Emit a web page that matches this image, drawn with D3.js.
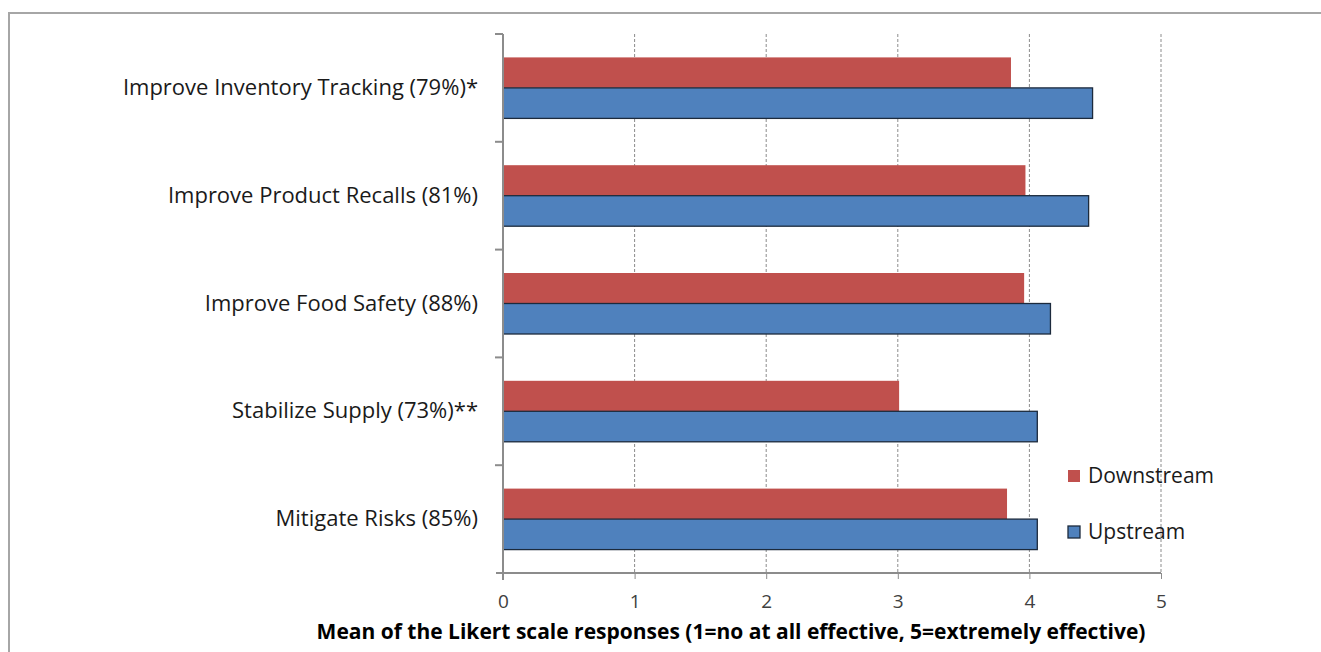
<!DOCTYPE html>
<html>
<head>
<meta charset="utf-8">
<script src="https://cdn.jsdelivr.net/npm/d3@7/dist/d3.min.js"></script>
<style>
  body { margin: 0; background: #fff; }
  svg { display: block; }
</style>
</head>
<body>
<div id="chart"></div>
<script>
//categories from top to bottom
var categories = [
  "Improve Inventory Tracking (79%)*",
  "Improve Product Recalls (81%)",
  "Improve Food Safety (88%)",
  "Stabilize Supply (73%)**",
  "Mitigate Risks (85%)"
];

//series values
var downstream = [3.86, 3.97, 3.96, 3.01, 3.83];
var upstream = [4.48, 4.45, 4.16, 4.06, 4.06];

var seriesNames = ["Downstream", "Upstream"];
var tickValues = [0, 1, 2, 3, 4, 5];

var axisTitle = "Mean of the Likert scale responses (1=no at all effective, 5=extremely effective)";

var width = 1321;
var height = 652;

//font used everywhere
var fontFamily = "'Open Sans', 'Noto Sans', sans-serif";

//plot area
var margin = { top: 34, left: 503, right: 160, bottom: 79 };
var innerWidth = width - margin.left - margin.right;
var innerHeight = height - margin.top - margin.bottom;

var svg = d3
  .select("#chart")
  .append("svg")
  .attr("width", width)
  .attr("height", height);

//outer frame (top and left edges visible)
svg
  .append("path")
  .attr("d", "M9,652 L9,13 L1321,13")
  .attr("fill", "none")
  .attr("stroke", "#a6a6a6")
  .attr("stroke-width", 2);

var g = svg
  .append("g")
  .attr("transform", "translate(" + margin.left + "," + margin.top + ")");

var xScale = d3.scaleLinear().domain([0, 5]).range([0, innerWidth]);

var yScale = d3
  .scaleBand()
  .domain(categories)
  .range([0, innerHeight])
  .paddingInner(0)
  .paddingOuter(0);

var barGroup = 61;
var barH = barGroup / 2;

//dashed gridlines
g.selectAll(".grid")
  .data(tickValues.filter(function(d) { return d > 0; }))
  .enter()
  .append("line")
  .attr("class", "grid")
  .attr("x1", function(d) { return xScale(d); })
  .attr("x2", function(d) { return xScale(d); })
  .attr("y1", 0)
  .attr("y2", innerHeight)
  .style("stroke", "#8c8c8c")
  .style("stroke-width", 1)
  .style("stroke-dasharray", "3,2");

//bars: data table built from the arrays
var rows = categories.map(function(c, i) {
  return { cat: c, down: downstream[i], up: upstream[i] };
});

var groupOffset = function(d) {
  return yScale(d.cat) + (yScale.bandwidth() - barGroup) / 2;
};

g.selectAll(".bar-down")
  .data(rows)
  .enter()
  .append("rect")
  .attr("class", "bar-down")
  .attr("x", xScale(0))
  .attr("y", function(d) { return groupOffset(d); })
  .attr("width", function(d) { return xScale(d.down) - xScale(0); })
  .attr("height", barH)
  .attr("fill", "#c0504d");

g.selectAll(".bar-up")
  .data(rows)
  .enter()
  .append("rect")
  .attr("class", "bar-up")
  .attr("x", xScale(0))
  .attr("y", function(d) { return groupOffset(d) + barH; })
  .attr("width", function(d) { return xScale(d.up) - xScale(0); })
  .attr("height", barH)
  .attr("fill", "#4f81bd")
  .attr("stroke", "#1c2a3c")
  .attr("stroke-width", 1.3);

//x axis
var xAxis = d3
  .axisBottom(xScale)
  .tickValues(tickValues)
  .tickSize(6)
  .tickFormat(d3.format("d"));

var xg = g
  .append("g")
  .attr("class", "x axis")
  .attr("transform", "translate(0," + innerHeight + ")")
  .call(xAxis);

xg.select(".domain").remove();
xg.append("line")
  .attr("x1", -7)
  .attr("x2", innerWidth)
  .attr("y1", 0)
  .attr("y2", 0)
  .style("stroke", "#8c8c8c")
  .style("stroke-width", 2);
xg.selectAll(".tick line").style("stroke", "#8c8c8c");
xg.selectAll(".tick text")
  .attr("y", 22)
  .style("font-family", fontFamily)
  .style("font-size", "19px")
  .style("fill", "#404040");

//y axis
var yAxis = d3.axisLeft(yScale).tickSize(0).tickPadding(25);

var yg = g
  .append("g")
  .attr("class", "y axis")
  .call(yAxis);

yg.select(".domain").remove();
yg.append("line")
  .attr("x1", 0)
  .attr("x2", 0)
  .attr("y1", 0)
  .attr("y2", innerHeight + 7)
  .style("stroke", "#8c8c8c")
  .style("stroke-width", 2);

//category boundary ticks
yg.selectAll(".bound")
  .data(d3.range(categories.length))
  .enter()
  .append("line")
  .attr("class", "bound")
  .attr("x1", -8)
  .attr("x2", 0)
  .attr("y1", function(i) { return yScale(categories[i]); })
  .attr("y2", function(i) { return yScale(categories[i]); })
  .style("stroke", "#8c8c8c")
  .style("stroke-width", 2);

yg.selectAll(".tick text")
  .style("font-family", fontFamily)
  .style("font-size", "22px")
  .style("fill", "#1a1a1a");

//axis title
svg
  .append("text")
  .attr("x", 731)
  .attr("y", 639)
  .attr("text-anchor", "middle")
  .style("font-family", fontFamily)
  .style("font-weight", "bold")
  .style("font-size", "21px")
  .style("fill", "#000")
  .text(axisTitle);

//legend
var legendColors = ["#c0504d", "#4f81bd"];
var legend = svg
  .selectAll(".legend")
  .data(seriesNames)
  .enter()
  .append("g")
  .attr("class", "legend")
  .attr("transform", function(d, i) {
    return "translate(1068," + (470 + i * 56) + ")";
  });

legend
  .append("rect")
  .attr("width", 12)
  .attr("height", 12)
  .attr("fill", function(d, i) { return legendColors[i]; })
  .attr("stroke", function(d, i) { return i === 1 ? "#1c2a3c" : "none"; })
  .attr("stroke-width", 1.3);

legend
  .append("text")
  .attr("x", 20)
  .attr("y", 13)
  .style("font-family", fontFamily)
  .style("font-size", "21px")
  .style("fill", "#1a1a1a")
  .text(function(d) { return d; });
</script>
</body>
</html>
